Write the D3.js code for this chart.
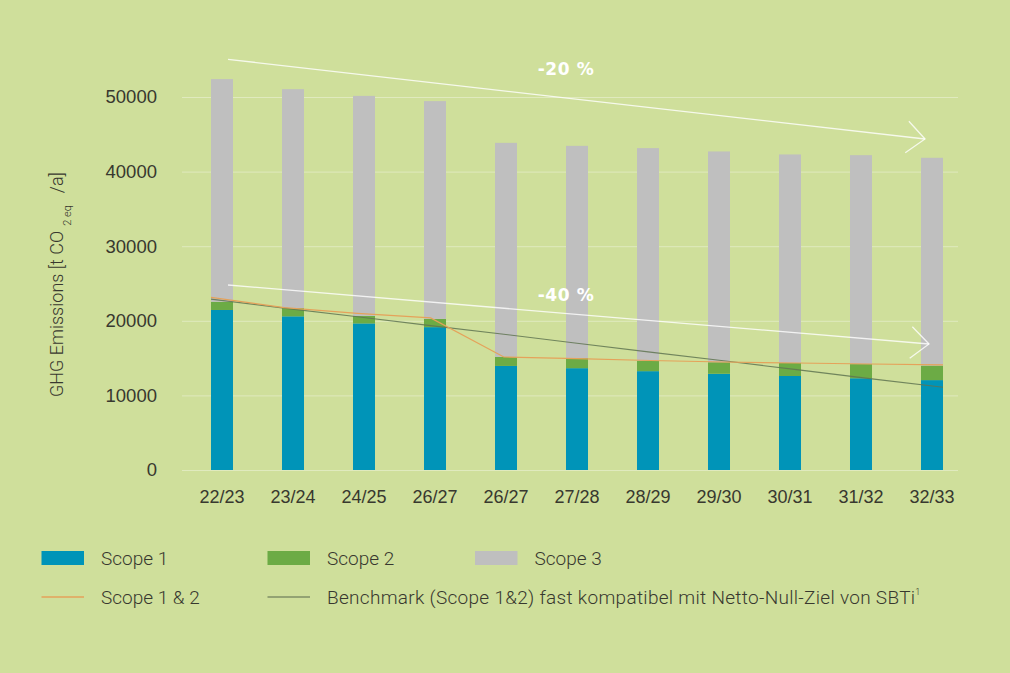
<!DOCTYPE html>
<html><head><meta charset="utf-8">
<script src="https://cdn.jsdelivr.net/npm/d3@7"></script>
<style>
html,body{margin:0;padding:0;background:#cfdf9b;}
svg{display:block;font-family:Roboto, "Liberation Sans", sans-serif;}
</style></head>
<body>
<svg id="chart" width="1010" height="673"></svg>
<script>
const categories = ["22/23","23/24","24/25","26/27","26/27","27/28","28/29","29/30","30/31","31/32","32/33"];
const scope1 = [21450, 20600, 19650, 19150, 13950, 13650, 13250, 12900, 12600, 12300, 12050];
const scope2 = [1100, 1100, 1000, 1100, 1200, 1350, 1400, 1550, 1750, 1900, 1950];
const scope3 = [29850, 29350, 29500, 29200, 28700, 28450, 28500, 28250, 27950, 28000, 27850];
const scope12Line = [23150, 21760, 21000, 20380, 15150, 14920, 14680, 14480, 14340, 14210, 14080];
const benchmark = [22900, 21700, 20550, 19350, 18200, 17000, 15800, 14650, 13450, 12250, 11100];
const yTicks = [0, 10000, 20000, 30000, 40000, 50000];
const arrowLabels = ["-20 %", "-40 %"];
// arrow endpoints expressed as (category index, value) pairs
const arrowStart = [[0, 55050], [0, 24800]];
const arrowEnd = [[10, 44370], [10, 16890]];
const legendRow1 = ["Scope 1", "Scope 2", "Scope 3"];
const legendRow2 = ["Scope 1 & 2", "Benchmark (Scope 1&2) fast kompatibel mit Netto-Null-Ziel von SBTi"];

const colors = {s1:"#0094b8", s2:"#6cab45", s3:"#bfbfbf", line12:"#e5a25a", bench:"#5f7451", text:"#38382f"};

const svg = d3.select("#chart");
const idx = d3.range(categories.length);

const x = d3.scaleBand().domain(idx).range([186.5, 967.5]).paddingInner(0.69).paddingOuter(0.345);
const y = d3.scaleLinear().domain([0, 50000]).range([470, 97]);
const xl = d3.scalePoint().domain(idx).range([x(0), x(idx.length-1) + x.bandwidth()]);

// y axis with gridlines
const gy = svg.append("g").attr("transform", "translate(182,0)")
  .call(d3.axisLeft(y).tickValues(yTicks).tickSizeInner(-(958-182)).tickSizeOuter(0).tickPadding(25).tickFormat(d3.format("d")));
gy.select(".domain").remove();
gy.selectAll(".tick line").attr("stroke", "#ffffff").attr("stroke-opacity", 0.35).attr("stroke-width", 1);
gy.selectAll(".tick text").attr("fill", colors.text).attr("font-size", 18.5).attr("font-weight", 300);

// x axis
const gx = svg.append("g").attr("transform", "translate(0,470)")
  .call(d3.axisBottom(x).tickSize(0).tickPadding(20).tickFormat(i => categories[i]));
gx.select(".domain").remove();
gx.selectAll(".tick text").attr("fill", colors.text).attr("font-size", 18).attr("font-weight", 300);

// stacked bars
const stackData = idx.map(i => ({i, s1: scope1[i], s2: scope2[i], s3: scope3[i]}));
const series = d3.stack().keys(["s1","s2","s3"])(stackData);
svg.append("g").selectAll("g").data(series).join("g")
  .attr("fill", d => colors[d.key])
  .selectAll("rect").data(d => d).join("rect")
  .attr("x", d => x(d.data.i))
  .attr("width", x.bandwidth())
  .attr("y", d => y(d[1]))
  .attr("height", d => y(d[0]) - y(d[1]));

// lines
const lineGen = d3.line().x((d, i) => xl(i)).y(d => y(d));
svg.append("path").datum(benchmark).attr("d", lineGen)
  .attr("fill", "none").attr("stroke", colors.bench).attr("stroke-width", 1.1).attr("stroke-opacity", 0.85);
svg.append("path").datum(scope12Line).attr("d", lineGen)
  .attr("fill", "none").attr("stroke", colors.line12).attr("stroke-width", 1.2);

// arrows
const endOff = [4, 8];
arrowLabels.forEach((lab, k) => {
  const x0 = x(arrowStart[k][0]) + 17, y0 = y(arrowStart[k][1]);
  const x1 = x(arrowEnd[k][0]) + endOff[k], y1 = y(arrowEnd[k][1]);
  const g = svg.append("g").attr("stroke", "#ffffff").attr("stroke-opacity", 0.8).attr("fill", "none").attr("stroke-width", 1.3);
  g.append("line").attr("x1", x0).attr("y1", y0).attr("x2", x1).attr("y2", y1);
  const ang = Math.atan2(y1 - y0, x1 - x0);
  const L = 24, a = 0.72;
  const p1 = [x1 - L*Math.cos(ang - a), y1 - L*Math.sin(ang - a)];
  const p2 = [x1 - L*Math.cos(ang + a), y1 - L*Math.sin(ang + a)];
  g.append("path").attr("d", `M${p1[0]},${p1[1]}L${x1},${y1}L${p2[0]},${p2[1]}`);
  svg.append("text").attr("x", 566).attr("y", k === 0 ? 75 : 301)
    .attr("text-anchor", "middle").attr("fill", "#ffffff")
    .attr("font-family", "'DejaVu Sans', sans-serif").attr("font-weight", "bold")
    .attr("font-size", 17).attr("letter-spacing", 0.6).text(lab);
});

// y axis title
const yt = svg.append("text").attr("transform", "translate(63,397) rotate(-90)")
  .attr("fill", colors.text).attr("font-size", 18).attr("font-weight", 300);
yt.append("tspan").text("GHG Emissions [t CO");
yt.append("tspan").attr("font-size", 11).attr("dy", 8).attr("dx", 5).text("2 eq");
yt.append("tspan").attr("dy", -8).attr("dx", 12).text("/a]");

// legend
const leg1X = [41.5, 267.5, 475];
const leg1 = svg.append("g");
legendRow1.forEach((lab, k) => {
  leg1.append("rect").attr("x", leg1X[k]).attr("y", 551).attr("width", 42.5).attr("height", 14)
    .attr("fill", [colors.s1, colors.s2, colors.s3][k]);
  leg1.append("text").attr("x", leg1X[k] + 59.5).attr("y", 565).attr("fill", colors.text)
    .attr("font-size", 19).attr("font-weight", 300).text(lab);
});
const leg2X = [41.5, 267.5];
const leg2Col = [colors.line12, "#7f8f66"];
const leg2 = svg.append("g");
legendRow2.forEach((lab, k) => {
  leg2.append("line").attr("x1", leg2X[k]).attr("x2", leg2X[k] + 42.5).attr("y1", 597).attr("y2", 597)
    .attr("stroke", leg2Col[k]).attr("stroke-width", 1.3);
  const t = leg2.append("text").attr("x", leg2X[k] + 59.5).attr("y", 604).attr("fill", colors.text)
    .attr("font-size", 19).attr("font-weight", 300).attr("letter-spacing", k === 1 ? 0.3 : 0).text(lab);
  if (k === 1) t.append("tspan").attr("font-size", 9).attr("dy", -9).text("1");
});
</script>
</body></html>
